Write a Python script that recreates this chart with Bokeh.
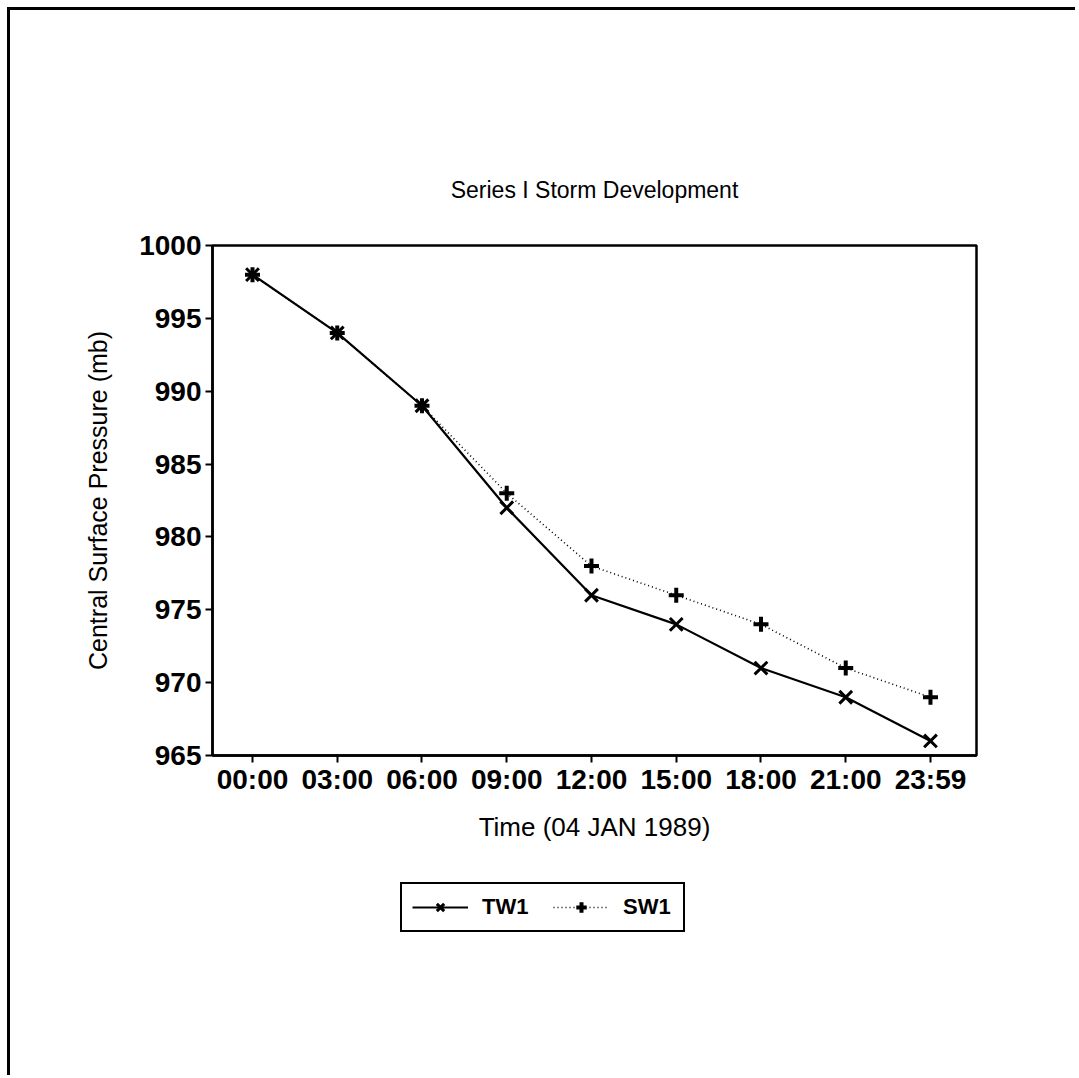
from bokeh.plotting import figure
from bokeh.layouts import column
from bokeh.models import Range1d, FixedTicker, Legend, LegendItem, Title
from bokeh.embed import file_html
from bokeh.resources import INLINE

# ---- data ----
times = ["00:00", "03:00", "06:00", "09:00", "12:00", "15:00", "18:00", "21:00", "23:59"]
tw1 = [998, 994, 989, 982, 976, 974, 971, 969, 966]
sw1 = [998, 994, 989, 983, 978, 976, 974, 971, 969]
y_ticks = [965, 970, 975, 980, 985, 990, 995, 1000]
title_text = "Series I Storm Development"
x_label = "Time (04 JAN 1989)"
y_label = "Central Surface Pressure (mb)"

xs = list(range(len(times)))
FONT = "Liberation Sans"

p = figure(width=1065, height=860, output_backend="svg", toolbar_location=None,
           x_range=Range1d(-0.472, len(times) - 1 + 0.543), y_range=Range1d(965, 1000),
           min_border_left=202, min_border_right=99, min_border_top=235, min_border_bottom=115,
           background_fill_color="white", border_fill_color="white")

p.grid.visible = False
p.outline_line_color = "black"
p.outline_line_width = 2.5

p.title.text = title_text
p.title.align = "center"
p.title.text_font = FONT
p.title.text_font_size = "23px"
p.title.text_font_style = "normal"
p.title.text_color = "black"
# spacer between title and frame
p.add_layout(Title(text=" ", text_font_size="23px"), "above")

for ax in (p.xaxis[0], p.yaxis[0]):
    ax.axis_line_width = 2.5
    ax.major_tick_line_width = 2
    ax.major_tick_out = 7
    ax.major_tick_in = 0
    ax.minor_tick_line_color = None
    ax.major_label_text_font = FONT
    ax.major_label_text_font_size = "28px"
    ax.major_label_text_font_style = "bold"
    ax.major_label_text_color = "black"
    ax.axis_label_text_font = FONT
    ax.axis_label_text_font_style = "normal"
    ax.axis_label_text_color = "black"

p.xaxis.ticker = FixedTicker(ticks=xs)
p.xaxis.major_label_overrides = {i: t for i, t in zip(xs, times)}
p.xaxis.axis_label = x_label
p.xaxis.axis_label_text_font_size = "26px"
p.xaxis.major_label_standoff = 1
p.xaxis.axis_label_standoff = 14

p.yaxis.ticker = FixedTicker(ticks=y_ticks)
p.yaxis.axis_label = y_label
p.yaxis.axis_label_text_font_size = "25px"
p.yaxis.major_label_standoff = 4
p.yaxis.axis_label_standoff = 24

# series
p.line(xs, tw1, line_color="black", line_width=2.2)
p.scatter(xs, tw1, marker="x", size=18, line_color="black", line_width=3)
p.line(xs, sw1, line_color="black", line_width=1.6, line_dash="1 3")
p.scatter(xs, sw1, marker="cross", size=15, line_color="black", line_width=4)

# legend panel (second figure; its series proxies lie outside its view)
q = figure(width=1065, height=205, output_backend="svg", toolbar_location=None,
           x_axis_type=None, y_axis_type=None,
           x_range=Range1d(100, 101), y_range=Range1d(0, 1),
           min_border=0, background_fill_color="white", border_fill_color="white")
q.outline_line_color = None
l1 = q.line(xs, tw1, line_color="black", line_width=2.2)
m1 = q.scatter(xs, tw1, marker="x", size=18, line_color="black", line_width=3)
l2 = q.line(xs, sw1, line_color="black", line_width=1.6, line_dash="1 3")
m2 = q.scatter(xs, sw1, marker="cross", size=15, line_color="black", line_width=4)

legend = Legend(items=[LegendItem(label="TW1", renderers=[l1, m1]),
                       LegendItem(label="SW1", renderers=[l2, m2])],
                orientation="horizontal", location=(188, 143),
                glyph_width=56, glyph_height=26, label_standoff=14,
                label_width=50, spacing=21, padding=10, margin=0,
                label_text_font=FONT, label_text_font_size="22px",
                label_text_font_style="bold", label_text_color="black",
                border_line_color="black", border_line_width=2, border_line_alpha=1,
                background_fill_color="white", background_fill_alpha=1)
q.add_layout(legend, "center")

page = column(p, q, spacing=0,
              styles={"border-left": "3px solid black", "border-top": "3px solid black",
                      "margin-left": "7px", "margin-top": "7px"})

open("out.html", "w").write(file_html(page, INLINE))
